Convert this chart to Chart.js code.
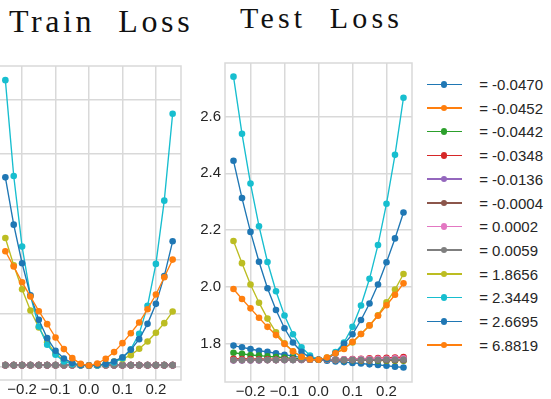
<!DOCTYPE html>
<html>
<head>
<meta charset="utf-8">
<script src="https://cdn.jsdelivr.net/npm/chart.js@4/dist/chart.umd.min.js"></script>
<style>
  html, body { margin: 0; padding: 0; background: #fff; width: 551px; height: 399px; overflow: hidden; position: relative; }
  .title { position: absolute; font-family: "Liberation Serif", "Times New Roman", serif; color: #111; white-space: pre; line-height: 1; }
  canvas { position: absolute; }
  .leg-line { position: absolute; height: 1.6px; }
  .leg-dot { position: absolute; width: 6.5px; height: 6.5px; border-radius: 50%; }
  .leg-text { position: absolute; font-family: "Liberation Sans", Arial, sans-serif; font-size: 15px; line-height: 15px; color: #262626; white-space: pre; }
</style>
</head>
<body>
<div class="title" id="trainTitle" style="left:9px; top:5px; font-size:32px; letter-spacing:3.6px;">Train  Loss</div>
<div class="title" id="testTitle" style="left:240px; top:3px; font-size:30px; letter-spacing:4.2px;">Test  Loss</div>
<canvas id="train" width="199" height="359" style="left:-8px; top:51px;"></canvas>
<canvas id="test" width="252" height="364" style="left:170px; top:48px;"></canvas>
<div id="legend"></div>
<script>
// Perturbation step along each eigen-direction
const steps = [-0.25, -0.225, -0.2, -0.175, -0.15, -0.125, -0.1, -0.075, -0.05, -0.025, 0,
               0.025, 0.05, 0.075, 0.1, 0.125, 0.15, 0.175, 0.2, 0.225, 0.25];

// Eigenvalue shown in the legend for each direction
const eigenLabels = [' = -0.0470', ' = -0.0452', ' = -0.0442', ' = -0.0348', ' = -0.0136', ' = -0.0004',
                     ' = 0.0002', ' = 0.0059', ' = 1.8656', ' = 2.3449', ' = 2.6695', ' = 6.8819'];

// Axis ticks
const xTicks = [-0.2, -0.1, 0, 0.1, 0.2];
const xTickLabels = ['\u22120.2', '\u22120.1', '0.0', '0.1', '0.2'];
const trainYTicks = [0, 0.1, 0.2, 0.3, 0.4, 0.5];
const trainYTickLabels = ['0.0', '0.1', '0.2', '0.3', '0.4', '0.5'];
const testYTicks = [1.8, 2.0, 2.2, 2.4, 2.6];
const testYTickLabels = ['1.8', '2.0', '2.2', '2.4', '2.6'];

// Train loss along each direction
const trainLoss0  = [0.003,0.003,0.003,0.003,0.003,0.003,0.003,0.003,0.003,0.003,0.0025,0.003,0.003,0.003,0.003,0.003,0.003,0.003,0.003,0.003,0.003];
const trainLoss1  = [0.003,0.003,0.003,0.003,0.003,0.003,0.003,0.003,0.003,0.003,0.0025,0.003,0.003,0.003,0.003,0.003,0.003,0.003,0.003,0.003,0.003];
const trainLoss2  = [0.003,0.003,0.003,0.003,0.003,0.003,0.003,0.003,0.003,0.003,0.0025,0.003,0.003,0.003,0.003,0.003,0.003,0.003,0.003,0.003,0.003];
const trainLoss3  = [0.003,0.003,0.003,0.003,0.003,0.003,0.003,0.003,0.003,0.003,0.0025,0.003,0.003,0.003,0.003,0.003,0.003,0.003,0.003,0.003,0.003];
const trainLoss4  = [0.003,0.003,0.003,0.003,0.003,0.003,0.003,0.003,0.003,0.003,0.0025,0.003,0.003,0.003,0.003,0.003,0.003,0.003,0.003,0.003,0.003];
const trainLoss5  = [0.003,0.003,0.003,0.003,0.003,0.003,0.003,0.003,0.003,0.003,0.0025,0.003,0.003,0.003,0.003,0.003,0.003,0.003,0.003,0.003,0.003];
const trainLoss6  = [0.003,0.003,0.003,0.003,0.003,0.003,0.003,0.003,0.003,0.003,0.0025,0.003,0.003,0.003,0.003,0.003,0.003,0.003,0.003,0.003,0.003];
const trainLoss7  = [0.003,0.003,0.003,0.003,0.003,0.003,0.003,0.003,0.003,0.003,0.0025,0.003,0.003,0.003,0.003,0.003,0.003,0.003,0.003,0.003,0.003];
const trainLoss8  = [0.2416,0.1904,0.1454,0.1055,0.0737,0.0462,0.0243,0.0119,0.0056,0.0031,0.0025,0.0031,0.005,0.010,0.0144,0.0218,0.0337,0.0474,0.0637,0.0818,0.1036];
const trainLoss9  = [0.5375,0.3577,0.2253,0.133,0.0755,0.0412,0.0225,0.010,0.005,0.003,0.0025,0.0025,0.005,0.0081,0.0162,0.033,0.0618,0.1142,0.1929,0.3115,0.4744];
const trainLoss10 = [0.3552,0.2665,0.1941,0.1342,0.088,0.0537,0.030,0.0156,0.0069,0.0031,0.0025,0.0037,0.005,0.010,0.018,0.0318,0.0518,0.0805,0.118,0.170,0.2353];
const trainLoss11 = [0.2166,0.1879,0.1586,0.1317,0.1042,0.0799,0.0549,0.0331,0.0162,0.0056,0.0025,0.0062,0.015,0.0275,0.0443,0.063,0.083,0.108,0.1355,0.168,0.201];

// Test loss along each direction
const testLoss0  = [1.794,1.788,1.782,1.776,1.772,1.767,1.762,1.757,1.752,1.747,1.744,1.741,1.738,1.736,1.733,1.731,1.728,1.726,1.723,1.720,1.717];
const testLoss1  = [1.747,1.747,1.746,1.746,1.746,1.745,1.745,1.745,1.744,1.744,1.744,1.744,1.743,1.743,1.743,1.742,1.742,1.742,1.741,1.741,1.741];
const testLoss2  = [1.769,1.765,1.761,1.759,1.756,1.754,1.752,1.749,1.747,1.745,1.744,1.744,1.744,1.743,1.743,1.743,1.743,1.742,1.742,1.742,1.742];
const testLoss3  = [1.748,1.747,1.747,1.746,1.746,1.745,1.745,1.745,1.744,1.744,1.744,1.744,1.745,1.746,1.747,1.748,1.749,1.750,1.751,1.752,1.754];
const testLoss4  = [1.742,1.742,1.742,1.742,1.743,1.743,1.743,1.743,1.743,1.744,1.744,1.744,1.744,1.744,1.744,1.744,1.744,1.744,1.744,1.744,1.744];
const testLoss5  = [1.743,1.743,1.743,1.743,1.743,1.743,1.744,1.744,1.744,1.744,1.744,1.744,1.744,1.744,1.744,1.744,1.744,1.744,1.744,1.744,1.744];
const testLoss6  = [1.743,1.743,1.743,1.743,1.743,1.743,1.743,1.744,1.744,1.744,1.744,1.745,1.745,1.746,1.746,1.747,1.747,1.748,1.748,1.749,1.749];
const testLoss7  = [1.743,1.743,1.743,1.743,1.743,1.743,1.743,1.743,1.744,1.744,1.744,1.744,1.744,1.744,1.744,1.744,1.744,1.744,1.745,1.745,1.745];
const testLoss8  = [2.162,2.084,2.009,1.945,1.889,1.841,1.802,1.773,1.755,1.747,1.744,1.752,1.767,1.784,1.805,1.835,1.865,1.901,1.946,1.991,2.046];
const testLoss9  = [2.740,2.539,2.364,2.214,2.088,1.985,1.900,1.834,1.788,1.759,1.744,1.749,1.771,1.805,1.860,1.935,2.029,2.148,2.293,2.465,2.666];
const testLoss10 = [2.444,2.313,2.194,2.089,1.996,1.919,1.855,1.805,1.772,1.752,1.744,1.747,1.767,1.800,1.834,1.884,1.942,2.009,2.087,2.171,2.262];
const testLoss11 = [1.993,1.958,1.925,1.892,1.860,1.831,1.800,1.774,1.755,1.746,1.744,1.752,1.767,1.782,1.807,1.835,1.865,1.899,1.936,1.973,2.013];

const trainSeries = [trainLoss0, trainLoss1, trainLoss2, trainLoss3, trainLoss4, trainLoss5,
                     trainLoss6, trainLoss7, trainLoss8, trainLoss9, trainLoss10, trainLoss11];
const testSeries = [testLoss0, testLoss1, testLoss2, testLoss3, testLoss4, testLoss5,
                    testLoss6, testLoss7, testLoss8, testLoss9, testLoss10, testLoss11];

// tab10 colour cycle
const palette = ['#1f77b4', '#ff7f0e', '#2ca02c', '#d62728', '#9467bd', '#8c564b',
                 '#e377c2', '#7f7f7f', '#bcbd22', '#17becf', '#1f77b4', '#ff7f0e'];

const gridColor = '#d9d9d9';
const tickFont = { family: '"Liberation Sans", Arial, sans-serif', size: 15 };
const tickColor = '#262626';

// Light frame on all four sides of the plotting area
const framePlugin = {
  id: 'frame',
  beforeDatasetsDraw(chart) {
    const a = chart.chartArea, ctx = chart.ctx;
    ctx.save();
    ctx.strokeStyle = gridColor;
    ctx.lineWidth = 1.5;
    ctx.strokeRect(a.left, a.top, a.right - a.left, a.bottom - a.top);
    ctx.restore();
  }
};

function buildDatasets(series) {
  return series.map((vals, i) => ({
    label: eigenLabels[i],
    data: steps.map((s, k) => ({ x: s, y: vals[k] })),
    borderColor: palette[i],
    backgroundColor: palette[i],
    borderWidth: 1.35,
    pointRadius: 3.3,
    pointBorderWidth: 0,
    pointHoverRadius: 3.3,
    tension: 0,
    order: series.length - i
  }));
}

function makeChart(id, series, yCfg) {
  return new Chart(document.getElementById(id), {
    type: 'line',
    data: { datasets: buildDatasets(series) },
    plugins: [framePlugin],
    options: {
      responsive: false,
      animation: false,
      devicePixelRatio: 1,
      layout: { padding: { left: yCfg.padLeft, right: 10, top: 15, bottom: 5 } },
      plugins: { legend: { display: false }, tooltip: { enabled: false } },
      scales: {
        x: {
          type: 'linear', min: -0.275, max: 0.275,
          afterBuildTicks: s => { s.ticks = xTicks.map(v => ({ value: v })); },
          afterFit: s => { s.height = 25; },
          ticks: { autoSkip: false, maxRotation: 0, minRotation: 0, padding: 1, color: tickColor, font: tickFont,
                   callback: (v, i) => xTickLabels[i] },
          grid: { color: gridColor, lineWidth: 1.5, drawTicks: false },
          border: { display: false }
        },
        y: {
          type: 'linear', min: yCfg.min, max: yCfg.max,
          afterBuildTicks: s => { s.ticks = yCfg.ticks.map(v => ({ value: v })); },
          afterFit: s => { s.width = yCfg.width; },
          ticks: { display: yCfg.showLabels, autoSkip: false, padding: 4, color: tickColor, font: tickFont,
                   callback: (v, i) => yCfg.labels[i] },
          grid: { color: gridColor, lineWidth: 1.5, drawTicks: false },
          border: { display: false }
        }
      }
    }
  });
}

makeChart('train', trainSeries, { min: -0.0248, max: 0.564, ticks: trainYTicks, labels: trainYTickLabels,
                                  width: 0, padLeft: 5, showLabels: false });
makeChart('test', testSeries, { min: 1.666, max: 2.788, ticks: testYTicks, labels: testYTickLabels,
                                width: 45, padLeft: 10, showLabels: true });

// Shared legend to the right of the panels
const legend = document.getElementById('legend');
eigenLabels.forEach((label, i) => {
  const y = 84.3 + 23.7 * i;
  const line = document.createElement('div');
  line.className = 'leg-line';
  line.style.cssText = `left:427px; width:35px; top:${y - 0.8}px; background:${palette[i]};`;
  const dot = document.createElement('div');
  dot.className = 'leg-dot';
  dot.style.cssText = `left:${444 - 3.25}px; top:${y - 3.25}px; background:${palette[i]};`;
  const text = document.createElement('div');
  text.className = 'leg-text';
  text.style.cssText = `left:475px; top:${y - 7.3}px;`;
  text.textContent = label;
  legend.append(line, dot, text);
});
</script>
</body>
</html>
